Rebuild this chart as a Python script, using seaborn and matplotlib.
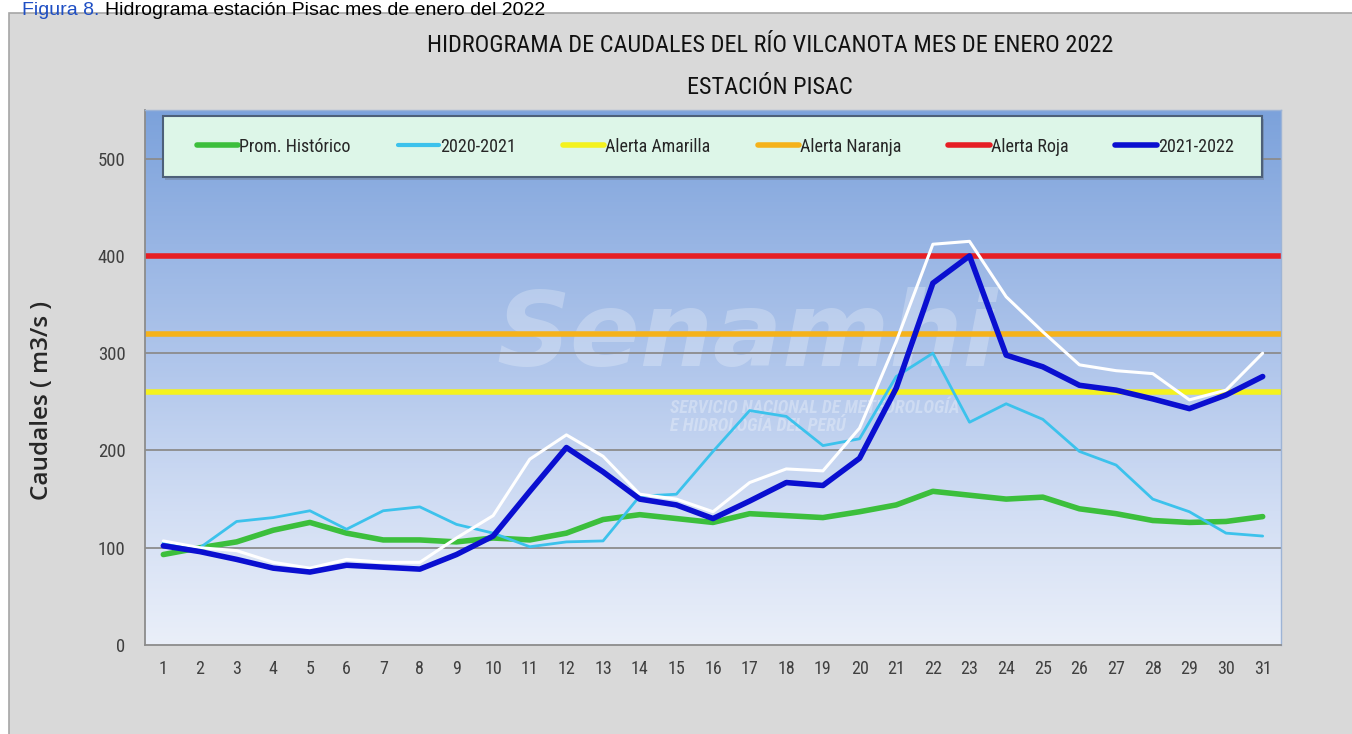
import numpy as np
import pandas as pd
import seaborn as sns
import matplotlib.pyplot as plt
from matplotlib import font_manager
from matplotlib.patches import Rectangle
from matplotlib.lines import Line2D
from matplotlib.colors import LinearSegmentedColormap

dias = list(range(1, 32))
prom_historico = [93, 100, 106, 118, 126, 115, 108, 108, 106, 110, 108, 115, 129, 134, 130, 126,
                  135, 133, 131, 137, 144, 158, 154, 150, 152, 140, 135, 128, 126, 127, 132]
q_2020_2021 = [105, 100, 127, 131, 138, 119, 138, 142, 124, 115, 101, 106, 107, 153, 155, 199,
               241, 235, 205, 212, 276, 300, 229, 248, 232, 199, 185, 150, 137, 115, 112]
q_2021_2022 = [102, 96, 88, 79, 75, 82, 80, 78, 93, 112, 158, 203, 178, 150, 144, 130,
               148, 167, 164, 192, 264, 372, 400, 298, 286, 267, 262, 253, 243, 257, 276]
q_blanca = [107, 100, 97, 85, 79, 88, 85, 85, 110, 133, 191, 216, 194, 155, 150, 137,
            167, 181, 179, 223, 312, 412, 415, 358, 322, 288, 282, 279, 252, 262, 300]
alerta_amarilla = 260
alerta_naranja = 320
alerta_roja = 400

sns.set_style("white")
disponibles = {f.name for f in font_manager.fontManager.ttflist}
narrow = next((f for f in ["Liberation Sans Narrow", "Roboto Condensed", "Open Sans", "DejaVu Sans"]
               if f in disponibles), "DejaVu Sans")
plt.rcParams['font.family'] = [narrow, 'DejaVu Sans']

df = pd.DataFrame({"dia": dias, "prom": prom_historico, "q2021": q_2020_2021,
                   "q2022": q_2021_2022, "blanca": q_blanca})

fig = plt.figure(figsize=(13.52, 7.34), dpi=100)
fig.patch.set_facecolor("white")
fig.patches.append(Rectangle((9 / 1352, -0.01), 1, 1.01 - 13 / 734, transform=fig.transFigure,
                             facecolor="#d9d9d9", edgecolor="#a6a6a6", lw=1.2, zorder=-10))

ax = fig.add_axes([145 / 1352, 1 - 645 / 734, 1136 / 1352, 535 / 734])
ax.set_xlim(0.5, 31.5)
ax.set_ylim(0, 550)

# fondo degradado
cmap = LinearSegmentedColormap.from_list("fondo", ["#eaeff9", "#d2def4", "#b3c8ec", "#98b5e4", "#7ca2db"])
grad = np.linspace(0, 1, 256).reshape(-1, 1)
ax.imshow(grad, extent=[0.5, 31.5, 0, 550], origin="lower", aspect="auto", cmap=cmap, zorder=0)

# marca de agua
ax.text(0.53, 0.575, "Senamhi", transform=ax.transAxes, fontsize=74, fontweight="bold",
        style="italic", color="white", alpha=0.25, ha="center", va="center", zorder=1,
        family="DejaVu Sans")
ax.text(0.462, 0.426, "SERVICIO NACIONAL DE METEOROLOGÍA\nE HIDROLOGÍA DEL PERÚ", transform=ax.transAxes,
        fontsize=13, fontweight="bold", style="italic", color="white", alpha=0.3, ha="left",
        va="center", zorder=1, linespacing=1.0)

for v in [100, 200, 300, 400, 500]:
    ax.axhline(v, color="#8c8c8c", lw=1.3, zorder=1.5)

ax.axhline(alerta_amarilla, color="#f4f21e", lw=4, zorder=2)
ax.axhline(alerta_naranja, color="#f5b21a", lw=4, zorder=2)
ax.axhline(alerta_roja, color="#e61e24", lw=4, zorder=2)

sns.lineplot(data=df, x="dia", y="prom", ax=ax, color="#3cbf3c", lw=4, zorder=3)
sns.lineplot(data=df, x="dia", y="q2021", ax=ax, color="#3cc2ec", lw=2, zorder=3)
sns.lineplot(data=df, x="dia", y="blanca", ax=ax, color="white", lw=2.2, zorder=3)
sns.lineplot(data=df, x="dia", y="q2022", ax=ax, color="#0a0fd0", lw=4, zorder=4,
             solid_joinstyle="round")

ax.set_xlabel("")
ax.set_ylabel("Caudales ( m3/s )", fontsize=17.5, color="#262626", fontweight="semibold",
              family=["Open Sans", "DejaVu Sans"])
ax.yaxis.set_label_coords(-0.08, 0.458)

ax.set_xticks(dias)
ax.set_xticklabels([str(d) for d in dias], fontsize=13, color="#404040")
ax.set_xticks(np.arange(0.5, 32, 1), minor=True)
ax.tick_params(axis="x", which="major", length=0, pad=11)
ax.tick_params(axis="x", which="minor", length=6, color="#8c8c8c", direction="out")
ax.set_yticks([0, 100, 200, 300, 400, 500])
ax.tick_params(axis="y", length=0, labelsize=13.5, labelcolor="#404040", pad=14)

for s in ["left", "bottom"]:
    ax.spines[s].set_color("#8c8c8c")
    ax.spines[s].set_linewidth(1.3)
for s in ["top", "right"]:
    ax.spines[s].set_color("#9db4d6")
    ax.spines[s].set_linewidth(1)

# caja de la leyenda
x0, y0 = (163 - 145) / 1136, (645 - 177) / 535
w, h = (1262 - 163) / 1136, 61 / 535
ax.add_patch(Rectangle((x0 + 0.002, y0 - 0.005), w, h, transform=ax.transAxes, facecolor="#6f7f96",
                       edgecolor="none", alpha=0.5, zorder=5))
ax.add_patch(Rectangle((x0, y0), w, h, transform=ax.transAxes, facecolor="#ddf6e8",
                       edgecolor="#4d6079", lw=1.5, zorder=5.5))

handles = [Line2D([], [], color="#3cbf3c", lw=4), Line2D([], [], color="#3cc2ec", lw=3),
           Line2D([], [], color="#f4f21e", lw=4), Line2D([], [], color="#f5b21a", lw=4),
           Line2D([], [], color="#e61e24", lw=4), Line2D([], [], color="#0a0fd0", lw=4)]
labels = ["Prom. Histórico", "2020-2021", "Alerta Amarilla", "Alerta Naranja", "Alerta Roja", "2021-2022"]
leg = ax.legend(handles, labels, loc="center", bbox_to_anchor=(0.502, y0 + h / 2),
                ncol=6, fontsize=13, handlelength=2.3, handletextpad=0.05, columnspacing=2.6,
                borderaxespad=0, frameon=False)
leg.set_zorder(6)

fig.text(770 / 1352, 1 - 45 / 734, "HIDROGRAMA DE CAUDALES DEL RÍO VILCANOTA MES DE ENERO 2022",
         ha="center", va="center", fontsize=17.5, color="#111111")
fig.text(770 / 1352, 1 - 87 / 734, "ESTACIÓN PISAC", ha="center", va="center", fontsize=17.5,
         color="#111111")

# leyenda de la figura (dos colores)
t1 = fig.text(22 / 1352, 1 - 15 / 734, "Figura 8.", ha="left", va="baseline", fontsize=14,
              color="#1f4fc4", family=["Liberation Sans", "DejaVu Sans"])
ax.annotate("Hidrograma estación Pisac mes de enero del 2022", xy=(1, 0), xycoords=t1,
            xytext=(4, 0), textcoords="offset points", ha="left", va="bottom", fontsize=14,
            color="black", family=["Liberation Sans", "DejaVu Sans"], annotation_clip=False)

fig.savefig("out.png", dpi=100)
